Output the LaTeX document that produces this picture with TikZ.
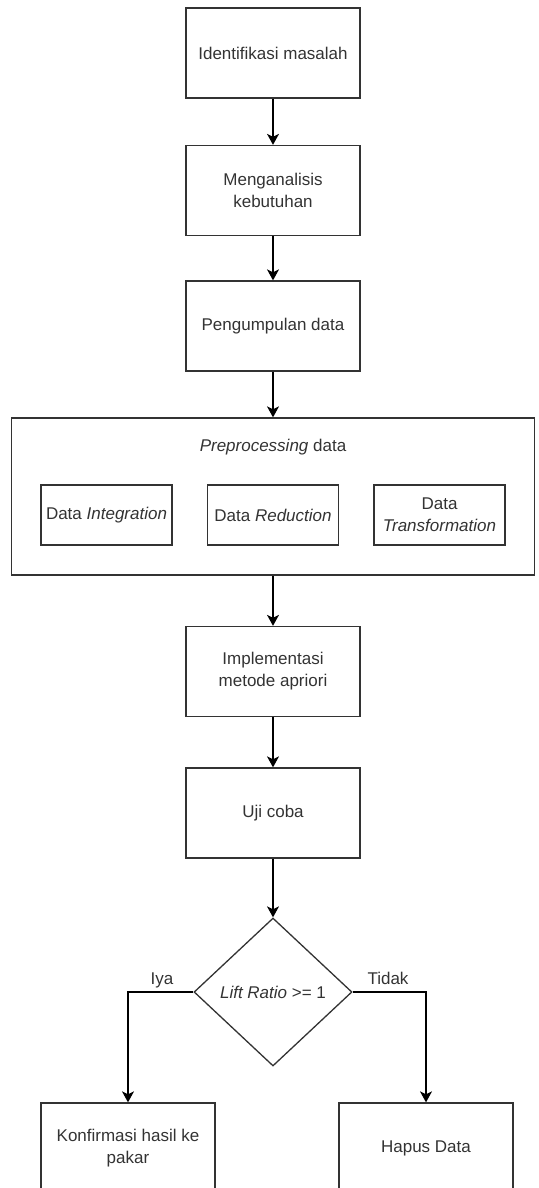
\documentclass[tikz,border=0pt]{standalone}
\usepackage{fontspec}
\setmainfont{Liberation Sans}
\usetikzlibrary{shapes.geometric,arrows.meta,positioning}

\begin{document}
\begin{tikzpicture}[x=1pt, y=-1pt,
  every node/.style={font=\fontsize{17}{22}\selectfont, text=black!80},
  proc/.style={draw=black!80, line width=1.3pt, rectangle, minimum width=174pt,
               minimum height=90pt, align=center, inner sep=2pt},
  sub/.style={draw=black!80, line width=1.3pt, rectangle, minimum width=131pt,
              minimum height=60pt, align=center, inner sep=2pt},
  grp/.style={draw=black!80, line width=1.3pt, rectangle, minimum width=523pt,
              minimum height=157pt},
  dec/.style={draw=black!80, line width=1.3pt, diamond, aspect=1, inner sep=0pt,
              minimum width=158pt, minimum height=148pt, align=center},
  lbl/.style={anchor=base, inner sep=1pt},
  ar/.style={->, line width=1.3pt, >={Stealth[length=11pt, width=12pt, inset=3pt]}}]

\useasboundingbox (0,0) rectangle (538,1188);
\clip (0,0) rectangle (538,1188);

%% --- main steps ---
\node[proc] (IDN) at (273,  53)   {Identifikasi masalah};
\node[proc] (ANL) at (273, 190.5) {Menganalisis \\ kebutuhan};
\node[proc] (KMP) at (273, 326)   {Pengumpulan data};

%% --- preprocessing group ---
\node[grp]  (PRE) at (273, 496.5) {};
\node       (PRT) at (273, 447)   {\textit{Preprocessing} data};
\node[sub]  (INT) at (106.5, 515) {Data \textit{Integration}};
\node[sub]  (RED) at (273,   515) {Data \textit{Reduction}};
\node[sub]  (TRF) at (439.5, 515) {Data \\ \textit{Transformation}};

%% --- apriori and testing ---
\node[proc] (IMP) at (273, 671.5) {Implementasi \\ metode apriori};
\node[proc] (UJI) at (273, 813)   {Uji coba};
\node[dec]  (LFT) at (273, 992)   {\textit{Lift Ratio} >= 1};

%% --- outcomes ---
\node[proc] (KNF) at (128, 1148)  {Konfirmasi hasil ke \\ pakar};
\node[proc] (HPS) at (426, 1148)  {Hapus Data};

%% --- arrows ---
\draw[ar] (IDN) -- (ANL);
\draw[ar] (ANL) -- (KMP);
\draw[ar] (KMP) -- (PRE);
\draw[ar] (PRE) -- (IMP);
\draw[ar] (IMP) -- (UJI);
\draw[ar] (UJI) -- (LFT);
\draw[ar] (LFT.west) -| (KNF.north);
\draw[ar] (LFT.east) -| (HPS.north);

%% --- branch labels ---
\node[lbl] (IYA) at (162, 984) {Iya};
\node[lbl] (TDK) at (388, 984) {Tidak};
\end{tikzpicture}
\end{document}
